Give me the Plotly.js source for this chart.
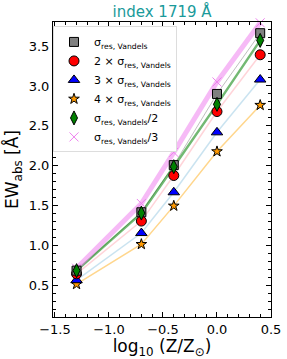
<!DOCTYPE html>
<html><head><meta charset="utf-8">
<script src="https://cdn.plot.ly/plotly-3.0.1.min.js"></script>
<style>body{margin:0;padding:0;background:#fff}#c{width:287px;height:359px}</style>
</head><body><div id="c"></div>
<script>
const logZ = [-1.3, -0.7, -0.4, 0.0, 0.4];
const sigma1 = [0.69, 1.42, 2.01, 2.90, 3.66];
const sigma2 = [0.65, 1.31, 1.88, 2.68, 3.39];
const sigma3 = [0.57, 1.16, 1.67, 2.42, 3.08];
const sigma4 = [0.52, 1.02, 1.50, 2.18, 2.76];
const sigmaHalf = [0.69, 1.41, 1.99, 2.77, 3.57];
const sigmaThird = [0.72, 1.53, 2.17, 3.05, 3.79];
const seriesNames = [
  'σ<sub>res, Vandels</sub>',
  '2 × σ<sub>res, Vandels</sub>',
  '3 × σ<sub>res, Vandels</sub>',
  '4 × σ<sub>res, Vandels</sub>',
  'σ<sub>res, Vandels</sub>/2',
  'σ<sub>res, Vandels</sub>/3'
];
const seriesVals = [sigma1, sigma2, sigma3, sigma4, sigmaHalf, sigmaThird];

const lineStyles = [
  {color:'rgba(128,128,128,0.5)', width:1},
  {color:'rgba(255,160,170,0.45)', width:1.5},
  {color:'rgba(150,200,225,0.5)', width:1.5},
  {color:'rgba(255,165,0,0.45)', width:1.5},
  {color:'rgba(0,128,0,0.55)', width:2.5},
  {color:'rgba(238,130,238,0.55)', width:5}
];
const markerStyles = [
  {symbol:'square', size:9, color:'#808080', line:{color:'#000', width:1}},
  {symbol:'circle', size:10, color:'#ff0000', line:{color:'#000', width:1}},
  {symbol:'triangle-up', size:10, color:'#0000ff', line:{color:'#000', width:1}},
  {symbol:'star', size:8, color:'#ff9900', line:{color:'#000', width:1}},
  {symbol:'diamond-tall', size:10, color:'#008000', line:{color:'#000', width:1}},
  {symbol:'x-thin', size:9, color:'#ee82ee', line:{color:'#ee82ee', width:1}}
];

const traces = [];
seriesVals.forEach((v,i)=>{
  traces.push({x:logZ, y:v, mode:'lines', line:lineStyles[i], showlegend:false, hoverinfo:'skip'});
});
const order = [5,3,2,1,0,4];
const mtraces = [];
seriesVals.forEach((v,i)=>{
  mtraces[i] = {x:logZ, y:v, mode:'markers', name:seriesNames[i], marker:markerStyles[i], legendrank:i+1, cliponaxis:false};
});
order.forEach(i=>traces.push(mtraces[i]));

const axFont = {family:'DejaVu Sans', size:13, color:'#000'};
const layout = {
  width:287, height:359,
  margin:{l:53, r:16, t:22, b:42},
  paper_bgcolor:'#fff', plot_bgcolor:'#fff',
  font:{family:'DejaVu Sans', color:'#000'},
  title:{text:'index 1719 Å', font:{family:'DejaVu Sans', size:15, color:'#1a9a9a'}, x:0.5647, xref:'container', xanchor:'center', y:0.966, yref:'container', yanchor:'middle'},
  xaxis:{range:[-1.518, 0.5], dtick:0.5, tick0:0, tickformat:'.1f', ticks:'inside', ticklen:5, tickwidth:1, tickcolor:'#000',
    showline:true, linecolor:'#000', linewidth:1, mirror:'allticks', showgrid:false, zeroline:false, tickfont:axFont,
    minor:{ticks:'inside', dtick:0.1, ticklen:3, tickcolor:'#000', showgrid:false},
    title:{text:'log<sub>10</sub> (Z/Z<sub>⊙</sub>)', font:{family:'DejaVu Sans', size:17}, standoff:1}},
  yaxis:{range:[0.11, 3.80], dtick:0.5, tick0:0, tickformat:'.1f', ticks:'inside', ticklen:5, tickwidth:1, tickcolor:'#000',
    showline:true, linecolor:'#000', linewidth:1, mirror:'allticks', showgrid:false, zeroline:false, tickfont:axFont,
    minor:{ticks:'inside', dtick:0.1, ticklen:3, tickcolor:'#000', showgrid:false},
    title:{text:'EW<sub>abs</sub> [Å]', font:{family:'DejaVu Sans', size:17}, standoff:5}},
  legend:{x:0.0, y:0.985, xanchor:'left', yanchor:'top', bgcolor:'#fff', bordercolor:'#ddd', borderwidth:1,
    font:{family:'DejaVu Sans', size:11, color:'#000'}, tracegroupgap:0, itemwidth:30},
  showlegend:true
};
Plotly.newPlot('c', traces, layout, {displayModeBar:false, staticPlot:true});
</script></body></html>
